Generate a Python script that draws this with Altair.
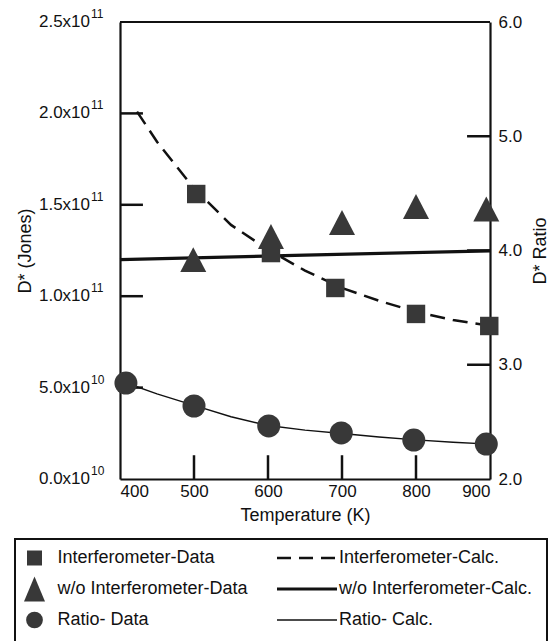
import altair as alt
import pandas as pd

FONT = "Liberation Sans"
INK = "#111111"
MARK = "#383838"

# ---------------- data ----------------
sq_T = [503, 604, 691, 800, 899]
sq_D = [1.559e11, 1.236e11, 1.045e11, 0.903e11, 0.837e11]

tri_T = [499, 604, 700, 800, 895]
tri_D = [1.200e11, 1.327e11, 1.403e11, 1.491e11, 1.477e11]

cir_T = [408, 500, 601, 699, 797, 895]
cir_R = [2.840, 2.639, 2.464, 2.403, 2.341, 2.306]

dash_T = [423, 450, 500, 550, 600, 650, 700, 750, 800, 850, 900]
dash_D = [2.01e11, 1.845e11, 1.59e11, 1.39e11, 1.255e11, 1.14e11, 1.045e11,
          0.975e11, 0.915e11, 0.870e11, 0.838e11]

thick_T = [400, 650, 900]
thick_D = [1.200e11, 1.225e11, 1.248e11]

thin_T = [400, 450, 500, 550, 600, 650, 700, 750, 800, 850, 900]
thin_R = [2.86, 2.745, 2.645, 2.545, 2.468, 2.428, 2.398, 2.368, 2.342, 2.322, 2.305]

x_ticks = [400, 500, 600, 700, 800, 900]
inner_x_ticks = [500, 600, 700, 800]
left_inner_ticks = [0.5e11, 1.0e11, 1.5e11, 2.0e11]
right_inner_ticks = [3.0, 4.0, 5.0]
right_labels = [2.0, 3.0, 4.0, 5.0, 6.0]
left_domain = [0.0, 2.5e11]
left_label_vals = [0.0, 0.5e11, 1.0e11, 1.5e11, 2.0e11, 2.5e11]
left_label_base = ["0.0x10", "5.0x10", "1.0x10", "1.5x10", "2.0x10", "2.5x10"]
left_label_exp = ["10", "10", "11", "11", "11", "11"]

leg_data_labels = ["Interferometer-Data", "w/o Interferometer-Data", "Ratio- Data"]
leg_calc_labels = ["Interferometer-Calc.", "w/o Interferometer-Calc.", "Ratio- Calc."]

# inward tick lengths (in data units)
TICK_X = 31
TICK_YL = 0.13e11
FRAME_W = 2.2
TRI_PLOT = "M0,-0.96L1,0.96L-1,0.96Z"
TRI_LEG = "M0,-1.18L1,1.18L-1,1.18Z"

# ---------------- scales / encodings ----------------
xs = alt.Scale(domain=[x_ticks[0], x_ticks[-1]], nice=False, zero=False)
ysl = alt.Scale(domain=left_domain, nice=False)
ysr = alt.Scale(domain=[right_labels[0], right_labels[-1]], nice=False, zero=False)

x_axis = alt.Axis(values=x_ticks, format="d", ticks=False, tickSize=0, domain=True,
                  domainColor=INK, domainWidth=FRAME_W,
                  grid=False, labelPadding=4, labelFontSize=17, title="Temperature (K)",
                  titleFontSize=18, titleFontWeight="normal", titlePadding=7)
yl_axis = alt.Axis(labels=False, ticks=False, tickSize=0, domain=True,
                   domainColor=INK, domainWidth=FRAME_W, grid=False,
                   title="D* (Jones)", titleFontSize=18, titleFontWeight="normal",
                   titleAngle=270, titleX=-95, titleBaseline="middle")
yr_axis = alt.Axis(orient="right", values=right_labels, format=".1f", ticks=False,
                   tickSize=0, domain=True, domainColor=INK, domainWidth=FRAME_W,
                   grid=False, labelPadding=8, labelFontSize=17,
                   title="D* Ratio", titleFontSize=18, titleFontWeight="normal",
                   titleAngle=270, titleX=50, titleBaseline="middle")

X = alt.X("T:Q", scale=xs, axis=x_axis)
YL = alt.Y("D:Q", scale=ysl, axis=yl_axis)
YR = alt.Y("R:Q", scale=ysr, axis=yr_axis)

df_sq = pd.DataFrame({"T": sq_T, "D": sq_D})
df_tri = pd.DataFrame({"T": tri_T, "D": tri_D})
df_cir = pd.DataFrame({"T": cir_T, "R": cir_R})
df_dash = pd.DataFrame({"T": dash_T, "D": dash_D})
df_thick = pd.DataFrame({"T": thick_T, "D": thick_D})
df_thin = pd.DataFrame({"T": thin_T, "R": thin_R})
df_lt = pd.DataFrame({"D": left_inner_ticks})
df_lt["T"] = x_ticks[0]
df_lt["T2"] = x_ticks[0] + TICK_X
df_bt = pd.DataFrame({"T": inner_x_ticks})
df_bt["D"] = 0.0
df_bt["D2"] = TICK_YL
df_rt = pd.DataFrame({"R": right_inner_ticks})
df_rt["T"] = x_ticks[-1] - TICK_X
df_rt["T2"] = x_ticks[-1]
df_top = pd.DataFrame({"D": [left_domain[1]], "T": [x_ticks[0]], "T2": [x_ticks[-1]]})
df_ll = pd.DataFrame({"D": left_label_vals, "base": left_label_base, "exp": left_label_exp})
df_ll["T"] = x_ticks[0]

dashed = alt.Chart(df_dash).mark_line(color=INK, strokeWidth=2.5, strokeDash=[15, 8]).encode(x=X, y=YL)
thick = alt.Chart(df_thick).mark_line(color=INK, strokeWidth=3.2).encode(x=X, y=YL)
lticks = alt.Chart(df_lt).mark_rule(color=INK, strokeWidth=2.5).encode(x=X, x2="T2:Q", y=YL)
bticks = alt.Chart(df_bt).mark_rule(color=INK, strokeWidth=2.5).encode(x=X, y=YL, y2="D2:Q")
topline = alt.Chart(df_top).mark_rule(color=INK, strokeWidth=FRAME_W).encode(x=X, x2="T2:Q", y=YL)
squares = alt.Chart(df_sq).mark_point(shape="square", filled=True, size=340, color=MARK, opacity=1).encode(x=X, y=YL)
triangles = alt.Chart(df_tri).mark_point(shape=TRI_PLOT, filled=True, size=676, color=MARK, opacity=1).encode(x=X, y=YL)
lbase = alt.Chart(df_ll).mark_text(align="right", baseline="middle", dx=-30, fontSize=17, font=FONT, color=INK).encode(x=X, y=YL, text="base:N")
lexp = alt.Chart(df_ll).mark_text(align="left", baseline="middle", dx=-29, dy=-8, fontSize=12, font=FONT, color=INK).encode(x=X, y=YL, text="exp:N")

thin = alt.Chart(df_thin).mark_line(color=INK, strokeWidth=1.4).encode(x=X, y=YR)
circles = alt.Chart(df_cir).mark_point(shape="circle", filled=True, size=529, color=MARK, opacity=1).encode(x=X, y=YR)
rticks = alt.Chart(df_rt).mark_rule(color=INK, strokeWidth=2.5).encode(x=X, x2="T2:Q", y=YR)

left_group = alt.layer(dashed, thick, lticks, bticks, topline, squares, triangles, lbase, lexp)
right_group = alt.layer(thin, rticks, circles)
main = alt.layer(left_group, right_group).resolve_scale(y="independent").properties(width=370, height=457)

# ---------------- legend (own little chart, box reaches left of the plot origin) ----------------
df_box = pd.DataFrame({"bx": [0.0], "bx2": [1.0], "by": [0.0], "by2": [1.0]})
df_leg0 = pd.DataFrame({"col": [0, 0, 0], "row": [0, 1, 2], "label": leg_data_labels})
df_leg1 = pd.DataFrame({"col": [1, 1, 1], "row": [0, 1, 2], "label": leg_calc_labels})

BX = alt.X("bx:Q", scale=alt.Scale(domain=[0, 1], range=[-105, 427]), axis=None)
BY = alt.Y("by:Q", scale=alt.Scale(domain=[0, 1], range=[0, 103]), axis=None)
box = alt.Chart(df_box).mark_rect(fill="white", stroke=INK, strokeWidth=2).encode(
    x=BX, x2="bx2:Q", y=BY, y2="by2:Q")

LX = alt.X("col:Q", scale=alt.Scale(domain=[0, 1], range=[-85.5, 187]), axis=None)
LY = alt.Y("row:Q", scale=alt.Scale(domain=[0, 2], range=[19, 81]), axis=None)

leg_layers = [
    alt.Chart(df_leg0[df_leg0.row == 0]).mark_point(shape="square", filled=True, size=225, color=MARK, opacity=1).encode(x=LX, y=LY),
    alt.Chart(df_leg0[df_leg0.row == 1]).mark_point(shape=TRI_LEG, filled=True, size=441, color=MARK, opacity=1).encode(x=LX, y=LY),
    alt.Chart(df_leg0[df_leg0.row == 2]).mark_point(shape="circle", filled=True, size=280, color=MARK, opacity=1).encode(x=LX, y=LY),
    alt.Chart(df_leg1[df_leg1.row == 0]).mark_point(shape="stroke", size=3600, color=INK, strokeWidth=2.5, strokeDash=[14, 8], opacity=1).encode(x=LX, y=LY),
    alt.Chart(df_leg1[df_leg1.row == 1]).mark_point(shape="stroke", size=3600, color=INK, strokeWidth=3.2, opacity=1).encode(x=LX, y=LY),
    alt.Chart(df_leg1[df_leg1.row == 2]).mark_point(shape="stroke", size=3600, color=INK, strokeWidth=1.3, opacity=1).encode(x=LX, y=LY),
    alt.Chart(df_leg0).mark_text(align="left", baseline="middle", dx=23, fontSize=18, font=FONT, color=INK).encode(x=LX, y=LY, text="label:N"),
    alt.Chart(df_leg1).mark_text(align="left", baseline="middle", dx=32, fontSize=18, font=FONT, color=INK).encode(x=LX, y=LY, text="label:N"),
]
legend = alt.layer(box, alt.layer(*leg_layers)).resolve_scale(
    x="independent", y="independent").properties(width=370, height=103)

chart = alt.vconcat(main, legend, spacing=14).properties(
    padding={"left": 14, "top": 8, "right": 4, "bottom": 0}
).configure_view(strokeOpacity=0).configure_axis(
    labelFont=FONT, titleFont=FONT, labelColor=INK, titleColor=INK
).configure_text(font=FONT)

chart.save("out.html", embed_options={"renderer": "svg", "actions": False})
